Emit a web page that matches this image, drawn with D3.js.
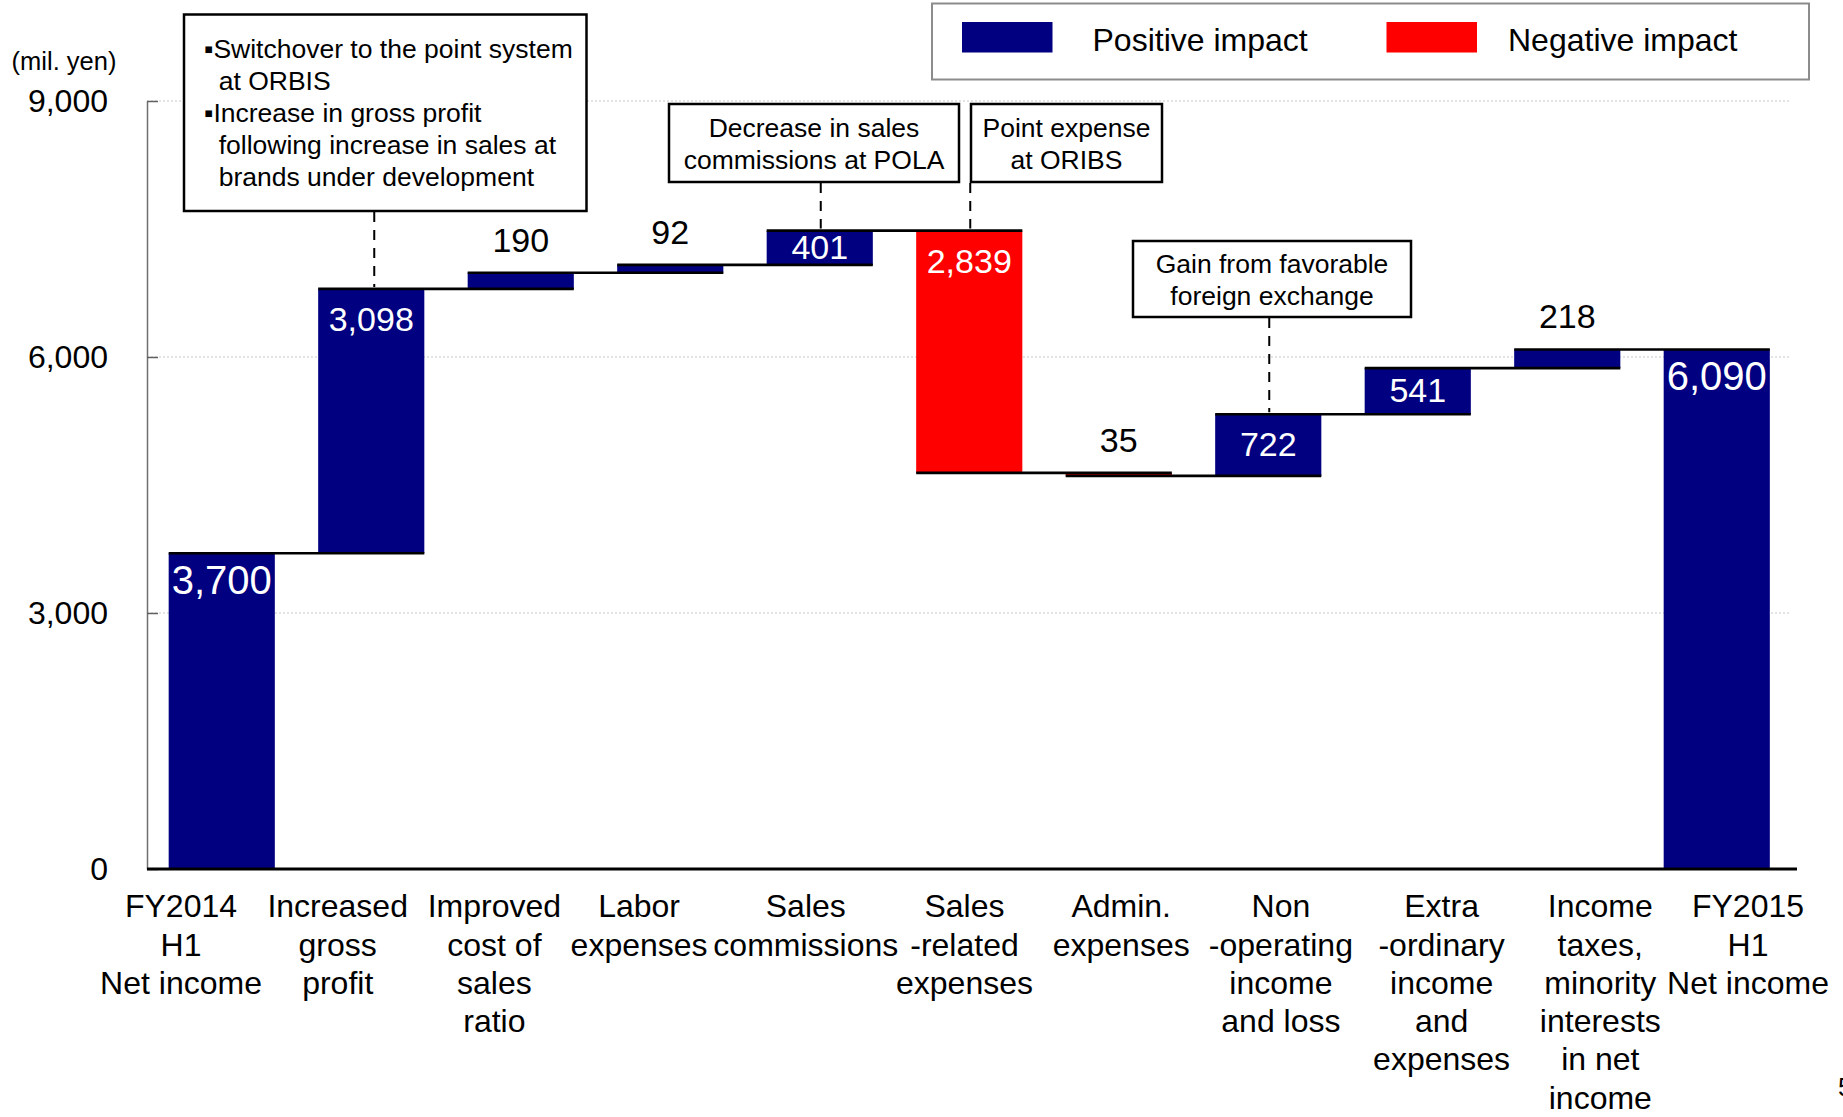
<!DOCTYPE html>
<html><head><meta charset="utf-8">
<script src="https://cdn.jsdelivr.net/npm/d3@7"></script>
<style>
body{margin:0;background:#fff;}
svg{display:block;font-family:"Liberation Sans",Arial,Helvetica,sans-serif;}
</style>
</head><body>
<svg id="chart" width="1843" height="1117"></svg>
<script>
// ---------------- data ----------------
const categories = ["FY2014 H1 Net income","Increased gross profit","Improved cost of sales ratio","Labor expenses","Sales commissions","Sales-related expenses","Admin. expenses","Non-operating income and loss","Extra-ordinary income and expenses","Income taxes, minority interests in net income","FY2015 H1 Net income"];
const categoryLines = [
  ["FY2014","H1","Net income"],
  ["Increased","gross","profit"],
  ["Improved","cost of","sales","ratio"],
  ["Labor","expenses"],
  ["Sales","commissions"],
  ["Sales","-related","expenses"],
  ["Admin.","expenses"],
  ["Non","-operating","income","and loss"],
  ["Extra","-ordinary","income","and","expenses"],
  ["Income","taxes,","minority","interests","in net","income"],
  ["FY2015","H1","Net income"]
];
const values = [3700, 3098, 190, 92, 401, -2839, -35, 722, 541, 218, 6090];
const kinds = ["total","delta","delta","delta","delta","delta","delta","delta","delta","delta","total"];
const valueLabels = ["3,700","3,098","190","92","401","2,839","35","722","541","218","6,090"];
const yTicks = [0, 3000, 6000, 9000];
const yTickLabels = ["0","3,000","6,000","9,000"];
const yUnit = "(mil. yen)";
const legendLabels = ["Positive impact","Negative impact"];
const annotationTexts = [
  ["\u25AASwitchover to the point system","  at ORBIS","\u25AAIncrease in gross profit","  following increase in sales at","  brands under development"],
  ["Decrease in sales","commissions at POLA"],
  ["Point expense","at ORIBS"],
  ["Gain from favorable","foreign exchange"]
];
const annotationTargets = [1, 4, 5, 7]; // category index each note points at
const pageNumber = "5";

// ---------------- layout ----------------
const NAVY = "#000080", RED = "#FF0000";
const svg = d3.select("#chart");
const x = d3.scaleBand().domain(d3.range(categories.length)).range([147, 1791.5])
  .paddingInner(0.29).paddingOuter(0.145);
// category labels are spread a little wider than the bars (slide text boxes)
const xLabel = d3.scalePoint().domain(d3.range(categories.length)).range([181, 1748]);
const labelNudge = [0, 0, 0, -12, -2, 0, 0, 3, 7, 9, 0];
const y = d3.scaleLinear().domain([0, 9000]).range([869, 101]);

// compute waterfall
let run = 0;
const bars = values.map((v, i) => {
  let s, e;
  if (kinds[i] === "total") { s = 0; e = v; }
  else { s = run; e = run + v; }
  run = (kinds[i] === "total") ? v : e;
  return {i, v, s, e, kind: kinds[i], label: valueLabels[i]};
});

// gridlines
svg.append("g").selectAll("line").data(yTicks.filter(t => t > 0)).join("line")
  .attr("x1", 147).attr("x2", 1790)
  .attr("y1", d => y(d)).attr("y2", d => y(d))
  .attr("stroke", "#c8c8c8").attr("stroke-width", 1.2).attr("stroke-dasharray", "2,2");

// y axis
const axis = d3.axisLeft(y).tickValues(yTicks)
  .tickFormat((d, i) => yTickLabels[i]).tickSize(-11).tickSizeOuter(0).tickPadding(39);
const ag = svg.append("g").attr("transform", "translate(147,0)").call(axis);
ag.select(".domain").attr("stroke", "#707070").attr("stroke-width", 1.5);
ag.selectAll(".tick line").attr("stroke", "#606060").attr("stroke-width", 1.5);
ag.selectAll(".tick text").attr("font-size", 32).attr("fill", "#000")
  .attr("font-family", '"Liberation Sans",Arial,sans-serif');

svg.append("text").attr("x", 64).attr("y", 61).attr("dy", "0.35em")
  .attr("text-anchor", "middle").attr("font-size", 25.5).text(yUnit);

// bars
svg.append("g").selectAll("rect").data(bars).join("rect")
  .attr("x", d => x(d.i)).attr("width", x.bandwidth())
  .attr("y", d => y(Math.max(d.s, d.e)))
  .attr("height", d => Math.abs(y(d.s) - y(d.e)))
  .attr("fill", d => d.v < 0 ? RED : NAVY);

// connector lines
const conn = bars.slice(0, -1).map((d, k) => ({k, lvl: d.e}));
svg.append("g").selectAll("line").data(conn).join("line")
  .attr("x1", d => x(d.k)).attr("x2", d => x(d.k + 1) + x.bandwidth())
  .attr("y1", d => y(d.lvl)).attr("y2", d => y(d.lvl))
  .attr("stroke", "#000").attr("stroke-width", 2.6);

// baseline
svg.append("line").attr("x1", 147).attr("x2", 1797).attr("y1", y(0)).attr("y2", y(0))
  .attr("stroke", "#000").attr("stroke-width", 3);

// value labels
svg.append("g").selectAll("text").data(bars).join("text")
  .attr("x", d => x(d.i) + x.bandwidth() / 2)
  .attr("y", d => {
    const top = y(Math.max(d.s, d.e));
    const h = Math.abs(y(d.s) - y(d.e));
    if (d.kind === "total") return top + 27;
    if (Math.abs(d.v) >= 300) return top + Math.min(30, h / 2 - 1);
    return top - 33;
  })
  .attr("dy", "0.35em").attr("text-anchor", "middle")
  .attr("font-size", d => d.kind === "total" ? 40 : 34)
  .attr("fill", d => (d.kind === "total" || Math.abs(d.v) >= 300) ? "#fff" : "#000")
  .text(d => d.label);

// category labels
const cg = svg.append("g").selectAll("text").data(categoryLines).join("text")
  .attr("text-anchor", "middle").attr("font-size", 32).attr("fill", "#000");
cg.each(function(lines, i) {
  d3.select(this).selectAll("tspan").data(lines).join("tspan")
    .attr("x", xLabel(i) + labelNudge[i])
    .attr("y", (l, j) => 906 + j * 38.3)
    .attr("dy", "0.35em").text(l => l);
});

// annotations
const boxes = [
  {x: 184, y: 14.5, w: 402.5, h: 196.5, align: "start", tx: 204, ty: 49, lh: 32},
  {x: 669, y: 104, w: 290, h: 78, align: "middle", tx: 814, ty: 128, lh: 31.5},
  {x: 971, y: 104, w: 191, h: 78, align: "middle", tx: 1066.5, ty: 128, lh: 31.5},
  {x: 1133, y: 241, w: 278, h: 76, align: "middle", tx: 1272, ty: 264, lh: 31.5}
];
boxes.forEach((b, k) => {
  const target = bars[annotationTargets[k]];
  const cx = x(target.i) + x.bandwidth() / 2 + (k === 0 ? 3 : 1);
  svg.append("line").attr("x1", cx).attr("x2", cx)
    .attr("y1", b.y + b.h + 1).attr("y2", y(Math.max(target.s, target.e)) - 2)
    .attr("stroke", "#000").attr("stroke-width", 2).attr("stroke-dasharray", "10,8");
  svg.append("rect").attr("x", b.x).attr("y", b.y).attr("width", b.w).attr("height", b.h)
    .attr("fill", "#fff").attr("stroke", "#000").attr("stroke-width", 2.5);
  const t = svg.append("text").attr("font-size", 26.5).attr("text-anchor", b.align)
    .attr("xml:space", "preserve").style("white-space", "pre");
  annotationTexts[k].forEach((line, j) => {
    t.append("tspan").attr("x", b.tx).attr("y", b.ty + j * b.lh).attr("dy", "0.35em").text(line);
  });
});

// legend
const lg = svg.append("g");
lg.append("rect").attr("x", 932).attr("y", 3.5).attr("width", 877).attr("height", 76)
  .attr("fill", "#fff").attr("stroke", "#8c8c8c").attr("stroke-width", 2);
const legendItems = [{sx: 962, tx: 1092.5, c: NAVY}, {sx: 1386.5, tx: 1508, c: RED}];
legendItems.forEach((it, k) => {
  lg.append("rect").attr("x", it.sx).attr("y", 22).attr("width", 90.5).attr("height", 30.5).attr("fill", it.c);
  lg.append("text").attr("x", it.tx).attr("y", 40).attr("dy", "0.35em")
    .attr("font-size", 32).text(legendLabels[k]);
});

// page number (partly beyond the right edge, as in the source slide)
svg.append("text").attr("x", 1838).attr("y", 1087).attr("dy", "0.35em")
  .attr("font-size", 26).text(pageNumber);
</script>
</body></html>
